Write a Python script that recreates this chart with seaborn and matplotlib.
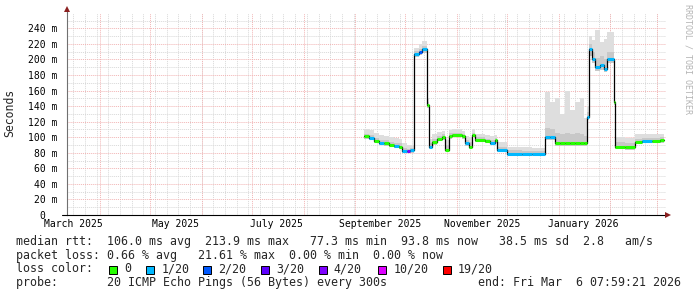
import matplotlib
matplotlib.use("Agg")
import matplotlib.pyplot as plt
import matplotlib.dates as mdates
from matplotlib.patches import Rectangle
from matplotlib.transforms import ScaledTranslation
import numpy as np
import pandas as pd
import seaborn as sns

# ---------------- data ----------------
dates = ["2025-09-06", "2025-09-09", "2025-09-12", "2025-09-15", "2025-09-18", "2025-09-21",
         "2025-09-24", "2025-09-27", "2025-09-29", "2025-10-02", "2025-10-04", "2025-10-06",
         "2025-10-09", "2025-10-11", "2025-10-14", "2025-10-15", "2025-10-17", "2025-10-20",
         "2025-10-23", "2025-10-25", "2025-10-27", "2025-10-29", "2025-11-04", "2025-11-06",
         "2025-11-08", "2025-11-10", "2025-11-12", "2025-11-18", "2025-11-21", "2025-11-24",
         "2025-11-25", "2025-12-01", "2025-12-10", "2025-12-16", "2025-12-24", "2025-12-27",
         "2025-12-30", "2026-01-02", "2026-01-05", "2026-01-08", "2026-01-11", "2026-01-14",
         "2026-01-16", "2026-01-18", "2026-01-19", "2026-01-21", "2026-01-23", "2026-01-26",
         "2026-01-28", "2026-01-30", "2026-02-03", "2026-02-04", "2026-02-10", "2026-02-16",
         "2026-02-20", "2026-02-26", "2026-03-03", "2026-03-05"]
median_ms = [101, 99, 95, 93, 92, 90, 89, 88, 82, 82, 83, 207,
             210, 213, 141, 88, 94, 98, 100, 84, 101, 103, 101, 92,
             88, 103, 96, 95, 93, 96, 84, 79, 78, 79, 100, 100,
             92, 92, 92, 92, 92, 92, 92, 126, 214, 201, 190, 193,
             188, 201, 145, 88, 87, 94, 95, 95, 96, 96]
smoke_lo = [98, 96, 92, 90, 89, 88, 86, 85, 80, 80, 80, 203,
            206, 208, 138, 85, 90, 95, 96, 82, 98, 100, 98, 89,
            85, 100, 94, 92, 90, 93, 81, 77, 76, 77, 96, 96,
            89, 89, 89, 89, 89, 89, 89, 122, 205, 196, 185, 186,
            184, 196, 141, 85, 84, 91, 92, 92, 93, 93]
smoke_mid = [104, 103, 99, 97, 96, 94, 93, 92, 86, 85, 86, 211,
             214, 217, 145, 92, 98, 102, 104, 90, 105, 106, 104, 96,
             94, 106, 100, 98, 97, 99, 88, 83, 82, 82, 112, 110,
             106, 104, 106, 104, 105, 104, 102, 132, 220, 210, 202, 204,
             200, 210, 148, 94, 93, 98, 99, 99, 100, 100]
smoke_hi = [110, 109, 106, 103, 102, 100, 99, 98, 92, 90, 90, 215,
            220, 224, 150, 98, 104, 107, 108, 96, 109, 110, 108, 101,
            100, 110, 104, 103, 101, 103, 94, 88, 87, 86, 158, 145,
            150, 130, 160, 135, 145, 150, 125, 140, 230, 225, 238, 222,
            226, 235, 152, 100, 99, 104, 104, 104, 104, 104]
loss_level = [0, 1, 0, 1, 0, 0, 1, 0, 1, 4, 1, 1,
              2, 1, 0, 1, 0, 0, 0, 0, 0, 0, 0, 1,
              0, 0, 0, 0, 1, 0, 1, 1, 1, 1, 1, 1,
              0, 0, 0, 0, 0, 0, 0, 1, 1, 1, 1, 1,
              1, 1, 0, 0, 0, 0, 1, 0, 0, 0]

loss_labels = ["0", "1/20", "2/20", "3/20", "4/20", "10/20", "19/20"]
loss_colors = ["#26ff00", "#00b8ff", "#0059ff", "#5e00ff", "#7e00ff", "#dd00ff", "#ff0000"]

y_ticks = [0, 20, 40, 60, 80, 100, 120, 140, 160, 180, 200, 220, 240]
x_label_dates = ["2025-03-16", "2025-05-16", "2025-07-16", "2025-09-16", "2025-11-16", "2026-01-16"]
x_labels = ["March 2025", "May 2025", "July 2025", "September 2025", "November 2025", "January 2026"]

legend_rtt = "median rtt:  106.0 ms avg  213.9 ms max   77.3 ms min  93.8 ms now   38.5 ms sd  2.8   am/s"
legend_loss = "packet loss: 0.66 % avg   21.61 % max  0.00 % min  0.00 % now"
probe_text = "probe:       20 ICMP Echo Pings (56 Bytes) every 300s"
end_text = "end: Fri Mar  6 07:59:21 2026"

# ---------------- figure ----------------
sns.set_style("white")
plt.rcParams["font.family"] = ["DejaVu Sans Mono"]

W, H = 697, 297
fig = plt.figure(figsize=(W / 100, H / 100), dpi=100)
fig.patch.set_facecolor("white")
ax_left, ax_right, ax_bottom, ax_top = 67, 666, 215, 13
ax = fig.add_axes([ax_left / W, 1 - ax_bottom / H, (ax_right - ax_left) / W, (ax_bottom - ax_top) / H])
ax.set_facecolor("white")

x_start = pd.Timestamp("2025-03-12 05:00")
x_end = pd.Timestamp("2026-03-06 08:00")
ax.set_xlim(x_start, x_end)
ax.set_ylim(0, 259.7)

d = pd.to_datetime(dates)
df = pd.DataFrame({"date": d, "median": median_ms, "lo": smoke_lo,
                   "mid": smoke_mid, "hi": smoke_hi})

# grid
month_starts = pd.date_range("2025-04-01", "2026-03-01", freq="MS")
weeks = pd.date_range("2025-03-16", "2026-03-06", freq="W-SUN")
dot = (0, (1, 1))
for wk in weeks:
    ax.axvline(wk, color="#d8d8d8", lw=0.7, ls=dot, zorder=0)
for ms in month_starts:
    ax.axvline(ms, color="#f2b4b4", lw=0.7, ls=dot, zorder=0.5)
for yv in range(10, 260, 20):
    ax.axhline(yv, color="#d8d8d8", lw=0.7, ls=dot, zorder=0)
for yv in y_ticks[1:]:
    ax.axhline(yv, color="#f2b4b4", lw=0.7, ls=dot, zorder=0.5)

# smoke
ax.fill_between(df["date"], df["lo"], df["hi"], step="post", color="#dedede", lw=0, zorder=1)
ax.fill_between(df["date"], df["lo"], df["mid"], step="post", color="#c8c8c8", lw=0, zorder=1.5)

# median line
sns.lineplot(data=df, x="date", y="median", drawstyle="steps-post", color="black",
             linewidth=0.9, ax=ax, zorder=3, legend=False)
seg_colors = [loss_colors[l] for l in loss_level[:-1]]
ax.hlines(df["median"].iloc[:-1], df["date"].iloc[:-1], df["date"].iloc[1:],
          colors=seg_colors, lw=2.2, zorder=4)

# axes styling
for s in ["top", "right"]:
    ax.spines[s].set_visible(False)
ax.spines["left"].set_color("#707070")
ax.spines["left"].set_linewidth(0.8)
ax.spines["bottom"].set_color("black")
ax.spines["bottom"].set_linewidth(0.8)
ax.set_xlabel("")
ax.set_ylabel("")

ax.set_yticks(y_ticks)
ax.set_yticklabels([f"{v} m" if v else "0" for v in y_ticks])
ax.set_xticks(pd.to_datetime(x_label_dates))
ax.set_xticklabels(x_labels)
ax.tick_params(axis="both", length=0, labelsize=7, colors="black")
ax.tick_params(axis="y", pad=7)
ax.tick_params(axis="x", pad=3)
for lab in ax.get_yticklabels():
    if lab.get_text() == "0":
        lab.set_transform(lab.get_transform() + ScaledTranslation(-2 * 7 * 0.602 / 72, 0, fig.dpi_scale_trans))

# axis extensions and arrows
fig.add_artist(plt.Line2D([62 / W, ax_left / W], [1 - ax_bottom / H] * 2, color="black", lw=0.8))
fig.add_artist(plt.Line2D([ax_right / W, 667 / W], [1 - ax_bottom / H] * 2, color="black", lw=0.8))
fig.add_artist(plt.Line2D([ax_left / W, ax_left / W], [1 - ax_top / H, 1 - 10 / H], color="#707070", lw=0.8))
arrow_c = "#8b2020"
fig.add_artist(plt.Line2D([668 / W], [1 - ax_bottom / H], marker=">", color=arrow_c, ms=4.5, mew=0, ls=""))
fig.add_artist(plt.Line2D([ax_left / W], [1 - 9 / H], marker="^", color=arrow_c, ms=4.5, mew=0, ls=""))

# y label
fig.text(10 / W, 1 - 113 / H, "Seconds", rotation=90, ha="center", va="center", fontsize=8.3)

# watermark
fig.text(688 / W, 1 - 4 / H, "RRDTOOL / TOBI OETIKER", rotation=270, ha="center", va="top",
         fontsize=6, color="#b4b4b4")

# legend rows
fs = 8.38
fig.text(16 / W, 1 - 241.5 / H, legend_rtt, ha="left", va="center", fontsize=fs)
fig.text(16 / W, 1 - 255.3 / H, legend_loss, ha="left", va="center", fontsize=fs)
fig.text(16 / W, 1 - 269 / H, "loss color:", ha="left", va="center", fontsize=fs)
box_x = [108.7, 146, 203.3, 261, 318.5, 378.3, 442.7]
for bx, lab, col in zip(box_x, loss_labels, loss_colors):
    fig.add_artist(Rectangle((bx / W, 1 - 273.5 / H), 8 / W, 8 / H, facecolor=col,
                             edgecolor="black", lw=0.7, transform=fig.transFigure))
    fig.text((bx + 15.3) / W, 1 - 269 / H, lab, ha="left", va="center", fontsize=fs)
fig.text(16 / W, 1 - 282.8 / H, probe_text, ha="left", va="center", fontsize=fs)
fig.text(478.3 / W, 1 - 282.8 / H, end_text, ha="left", va="center", fontsize=fs)

fig.savefig("out.png", dpi=100, facecolor="white")
